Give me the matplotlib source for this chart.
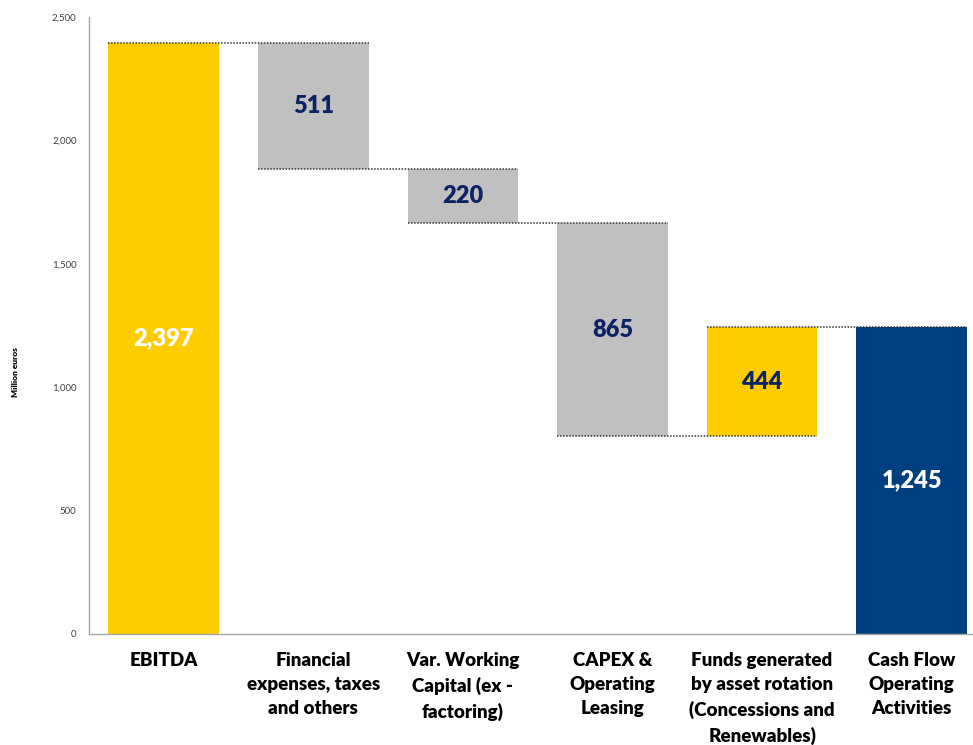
import matplotlib
matplotlib.use("Agg")
import matplotlib.pyplot as plt
import numpy as np

plt.rcParams['font.family'] = ['Lato', 'DejaVu Sans']

# waterfall steps (million euros)
categories = ["EBITDA", "Financial\nexpenses, taxes\nand others", "Var. Working\nCapital (ex -\nfactoring)",
              "CAPEX &\nOperating\nLeasing", "Funds generated\nby asset rotation\n(Concessions and\nRenewables)",
              "Cash Flow\nOperating\nActivities"]
changes = [2397, -511, -220, -865, 444, 1245]
kinds = ["total", "step", "step", "step", "step", "total"]
value_labels = ["2,397", "511", "220", "865", "444", "1,245"]
yticks = [0, 500, 1000, 1500, 2000, 2500]

YELLOW = "#FFCC00"
GREY = "#C0C0C0"
NAVY = "#003F80"
TEXT_NAVY = "#0B2265"

bottoms, tops = [], []
level = 0
for c, k in zip(changes, kinds):
    if k == "total":
        bottoms.append(0)
        tops.append(c)
        level = c
    else:
        new = level + c
        bottoms.append(min(level, new))
        tops.append(max(level, new))
        level = new
heights = [t - b for t, b in zip(tops, bottoms)]

colors = [YELLOW, GREY, GREY, GREY, YELLOW, NAVY]
text_colors = ["white", TEXT_NAVY, TEXT_NAVY, TEXT_NAVY, TEXT_NAVY, "white"]

fig = plt.figure(figsize=(9.73, 7.45), dpi=100)
ax = fig.add_axes([0.0915, 0.149, 0.9085, 0.828])

x = np.arange(len(categories))
w = 0.74
ax.bar(x, heights, bottom=bottoms, width=w, color=colors, zorder=2)

# dotted connectors: end level of each bar across to the next bar
levels = np.cumsum(changes[:-1])
for i, lv in enumerate(levels):
    ax.plot([x[i] - w / 2, x[i + 1] + w / 2], [lv, lv], color="#333333",
            lw=1.1, linestyle=(0, (1, 1)), zorder=3)

for xi, b, h, lab, tc in zip(x, bottoms, heights, value_labels, text_colors):
    ax.text(xi, b + h / 2, lab, ha="center", va="center", fontsize=17,
            fontweight="heavy", color=tc, zorder=4)

ax.set_xlim(-0.5, 5.41)
ax.set_ylim(0, 2500)
ax.set_yticks(yticks)
ax.set_yticklabels([f"{v:,}" for v in yticks], fontsize=7, color="#404040")
ax.tick_params(axis="y", length=0, pad=9)
ax.set_xticks(x)
ax.set_xticklabels(categories, fontsize=13.5, fontweight="heavy", linespacing=1.5)
ax.tick_params(axis="x", length=0, pad=13)

for s in ["top", "right"]:
    ax.spines[s].set_visible(False)
for s in ["left", "bottom"]:
    ax.spines[s].set_color("#A6A6A6")
    ax.spines[s].set_linewidth(1)

fig.text(0.016, 0.5, "Million euros", rotation=90, fontsize=6, fontweight="heavy",
         ha="center", va="center")

fig.savefig("out.png", dpi=100)
